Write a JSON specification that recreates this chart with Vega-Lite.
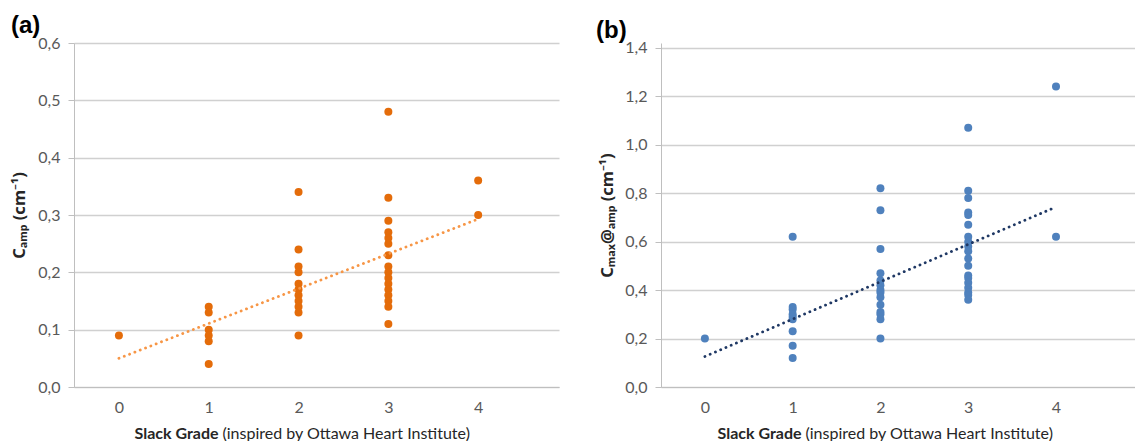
{
  "$schema": "https://vega.github.io/schema/vega-lite/v6.json",
  "background": "white",
  "padding": {"left": 11, "top": 14, "right": 0, "bottom": 0},
  "bounds": "flush",
  "spacing": 102,
  "datasets": {
    "a": [
      {"g": 0, "v": 0.09},
      {"g": 1, "v": 0.14}, {"g": 1, "v": 0.13}, {"g": 1, "v": 0.10}, {"g": 1, "v": 0.09}, {"g": 1, "v": 0.08}, {"g": 1, "v": 0.04},
      {"g": 2, "v": 0.34}, {"g": 2, "v": 0.24}, {"g": 2, "v": 0.21}, {"g": 2, "v": 0.20}, {"g": 2, "v": 0.18}, {"g": 2, "v": 0.17}, {"g": 2, "v": 0.16}, {"g": 2, "v": 0.15}, {"g": 2, "v": 0.14}, {"g": 2, "v": 0.13}, {"g": 2, "v": 0.09},
      {"g": 3, "v": 0.48}, {"g": 3, "v": 0.33}, {"g": 3, "v": 0.29}, {"g": 3, "v": 0.27}, {"g": 3, "v": 0.26}, {"g": 3, "v": 0.25}, {"g": 3, "v": 0.23}, {"g": 3, "v": 0.21}, {"g": 3, "v": 0.20}, {"g": 3, "v": 0.19}, {"g": 3, "v": 0.18}, {"g": 3, "v": 0.17}, {"g": 3, "v": 0.16}, {"g": 3, "v": 0.15}, {"g": 3, "v": 0.14}, {"g": 3, "v": 0.11},
      {"g": 4, "v": 0.36}, {"g": 4, "v": 0.30}
    ],
    "aTrend": [{"g": 0, "v": 0.050}, {"g": 4, "v": 0.293}],
    "b": [
      {"g": 0, "v": 0.20},
      {"g": 1, "v": 0.62}, {"g": 1, "v": 0.33}, {"g": 1, "v": 0.32}, {"g": 1, "v": 0.30}, {"g": 1, "v": 0.29}, {"g": 1, "v": 0.28}, {"g": 1, "v": 0.23}, {"g": 1, "v": 0.17}, {"g": 1, "v": 0.12},
      {"g": 2, "v": 0.82}, {"g": 2, "v": 0.73}, {"g": 2, "v": 0.57}, {"g": 2, "v": 0.47}, {"g": 2, "v": 0.44}, {"g": 2, "v": 0.42}, {"g": 2, "v": 0.40}, {"g": 2, "v": 0.39}, {"g": 2, "v": 0.37}, {"g": 2, "v": 0.34}, {"g": 2, "v": 0.31}, {"g": 2, "v": 0.30}, {"g": 2, "v": 0.28}, {"g": 2, "v": 0.20},
      {"g": 3, "v": 1.07}, {"g": 3, "v": 0.81}, {"g": 3, "v": 0.78}, {"g": 3, "v": 0.72}, {"g": 3, "v": 0.71}, {"g": 3, "v": 0.67}, {"g": 3, "v": 0.62}, {"g": 3, "v": 0.60}, {"g": 3, "v": 0.58}, {"g": 3, "v": 0.56}, {"g": 3, "v": 0.53}, {"g": 3, "v": 0.50}, {"g": 3, "v": 0.46}, {"g": 3, "v": 0.45}, {"g": 3, "v": 0.43}, {"g": 3, "v": 0.41}, {"g": 3, "v": 0.39}, {"g": 3, "v": 0.38}, {"g": 3, "v": 0.36},
      {"g": 4, "v": 1.24}, {"g": 4, "v": 0.62}
    ],
    "bTrend": [{"g": 0, "v": 0.126}, {"g": 4, "v": 0.743}]
  },
  "config": {
    "view": {"stroke": null},
    "axis": {
      "labelFont": "Lato", "labelFontSize": 16, "labelColor": "#595959",
      "titleFont": "Lato", "titleColor": "#262626",
      "domainColor": "#bfbfbf", "tickColor": "#bfbfbf",
      "gridColor": "#d0d0d0", "gridWidth": 1.5
    },
    "title": {"font": "Liberation Sans", "fontSize": 24, "fontWeight": "bold", "color": "#000000", "anchor": "start", "frame": "group"}
  },
  "hconcat": [
    {
      "width": 485, "height": 344,
      "title": {"text": "(a)", "dx": -63, "offset": -3},
      "resolve": {"scale": {"x": "independent"}, "axis": {"x": "independent"}},
      "layer": [
        {
          "data": {"name": "a"},
          "mark": {"type": "circle", "size": 64, "opacity": 1, "color": "#E46C0A"},
          "encoding": {
            "x": {"field": "g", "type": "quantitative", "scale": {"domain": [-0.5, 4.9], "nice": false, "zero": false},
              "axis": {"orient": "bottom", "values": [0, 1, 2, 3, 4], "grid": false, "ticks": false, "labelPadding": 12, "domain": true,
                "title": "Slack Grade", "titleFontSize": 16, "titleFontWeight": "bold", "titleAlign": "left", "titleBaseline": "top", "titleX": 60, "titleY": 38}},
            "y": {"field": "v", "type": "quantitative", "scale": {"domain": [0, 0.6], "nice": false},
              "axis": {"values": [0, 0.1, 0.2, 0.3, 0.4, 0.5, 0.6], "labelExpr": "replace(format(datum.value, '.1f'), '.', ',')",
                "tickSize": 6, "labelPadding": 8, "minExtent": 40, "maxExtent": 40, "titlePadding": 7,
                "title": "Cₐₘₚ  (cm⁻¹)", "titleFont": "Noto Sans", "titleFontSize": 16.5, "titleFontWeight": "bold"}}
          }
        },
        {
          "data": {"name": "aTrend"},
          "mark": {"type": "line", "color": "#F79646", "strokeWidth": 2.8, "strokeDash": [0.1, 5.6], "strokeCap": "round"},
          "encoding": {
            "x": {"field": "g", "type": "quantitative", "scale": {"domain": [-0.5, 4.9], "nice": false, "zero": false},
              "axis": {"orient": "bottom", "labels": false, "ticks": false, "domain": false, "grid": false,
                "title": "(inspired by Ottawa Heart Institute)", "titleFontSize": 16, "titleFontWeight": "normal", "titleAlign": "left", "titleBaseline": "top", "titleX": 148, "titleY": 38}},
            "y": {"field": "v", "type": "quantitative"}
          }
        }
      ]
    },
    {
      "width": 474, "height": 344,
      "title": {"text": "(b)", "dx": -65, "offset": -3},
      "resolve": {"scale": {"x": "independent"}, "axis": {"x": "independent"}},
      "layer": [
        {
          "data": {"name": "b"},
          "mark": {"type": "circle", "size": 64, "opacity": 1, "color": "#4F81BD"},
          "encoding": {
            "x": {"field": "g", "type": "quantitative", "scale": {"domain": [-0.5, 4.9], "nice": false, "zero": false},
              "axis": {"orient": "bottom", "values": [0, 1, 2, 3, 4], "grid": false, "ticks": false, "labelPadding": 12, "domain": true,
                "title": "Slack Grade", "titleFontSize": 16, "titleFontWeight": "bold", "titleAlign": "left", "titleBaseline": "top", "titleX": 56, "titleY": 38}},
            "y": {"field": "v", "type": "quantitative", "scale": {"domain": [0, 1.42], "nice": false},
              "axis": {"values": [0, 0.2, 0.4, 0.6, 0.8, 1.0, 1.2, 1.4], "labelExpr": "replace(format(datum.value, '.1f'), '.', ',')",
                "tickSize": 6, "labelPadding": 8, "minExtent": 40, "maxExtent": 40, "titlePadding": 6,
                "title": "Cₘₐₓ@ₐₘₚ (cm⁻¹)", "titleFont": "Noto Sans", "titleFontSize": 16.5, "titleFontWeight": "bold"}}
          }
        },
        {
          "data": {"name": "bTrend"},
          "mark": {"type": "line", "color": "#1F3864", "strokeWidth": 2.8, "strokeDash": [0.1, 5.6], "strokeCap": "round"},
          "encoding": {
            "x": {"field": "g", "type": "quantitative", "scale": {"domain": [-0.5, 4.9], "nice": false, "zero": false},
              "axis": {"orient": "bottom", "labels": false, "ticks": false, "domain": false, "grid": false,
                "title": "(inspired by Ottawa Heart Institute)", "titleFontSize": 16, "titleFontWeight": "normal", "titleAlign": "left", "titleBaseline": "top", "titleX": 144, "titleY": 38}},
            "y": {"field": "v", "type": "quantitative"}
          }
        }
      ]
    }
  ]
}
